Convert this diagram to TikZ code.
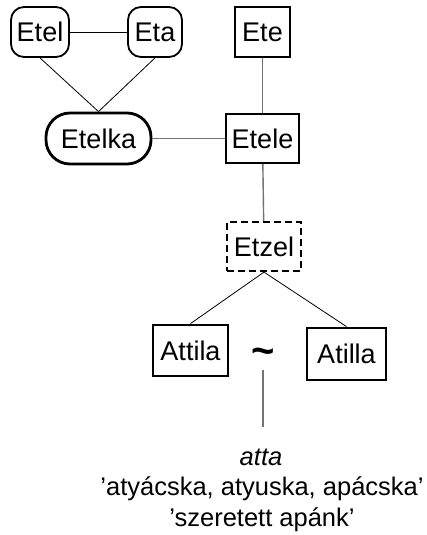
\documentclass[tikz,border=0pt]{standalone}
\usepackage{fontspec}
\setmainfont{Liberation Sans}
\begin{document}
\begin{tikzpicture}[x=1pt,y=-1pt,
  every node/.style={font=\fontsize{27}{30}\selectfont, inner sep=0pt},
  roundbox/.style={draw, line width=1.8pt, rounded corners=13pt},
  ovalbox/.style={draw, line width=2.8pt, rounded corners=24pt},
  sqbox/.style={draw, line width=2pt},
  thickbox/.style={draw, line width=2.8pt},
  dashbox/.style={draw, line width=2.2pt, dash pattern=on 7pt off 4pt},
  thin line/.style={draw, line width=0.8pt, black},
  gray line/.style={draw, line width=1.4pt, black!55},
  txt/.style={anchor=base, font=\fontsize{25.5}{28}\selectfont}
]
\useasboundingbox (0,0) rectangle (426,535);
\node[roundbox, minimum width=58pt, minimum height=50pt] (etel) at (40,32) {Etel};
\node[roundbox, minimum width=54pt, minimum height=50pt] (eta) at (155,32) {Eta};
\node[ovalbox, minimum width=105pt, minimum height=51pt] (etelka) at (98.5,138.5) {Etelka};
\node[sqbox, minimum width=55pt, minimum height=50pt] (ete) at (262.5,32) {Ete};
\node[sqbox, minimum width=73pt, minimum height=49pt] (etele) at (262.5,138.5) {Etele};
\node[dashbox, minimum width=74pt, minimum height=49pt] (etzel) at (264,246.5) {Etzel};
\node[thickbox, minimum width=75pt, minimum height=51pt] (attila) at (190.5,350.5) {Attila};
\node[thickbox, minimum width=79pt, minimum height=52pt] (atilla) at (346.5,354) {Atilla};
\node[font=\fontsize{40}{42}\selectfont\bfseries] (tilde) at (263,356) {\char"007E};
\coordinate (lt) at (263,370);
\coordinate (lb) at (263,427);
\node[txt] (atta) at (261,465) {\itshape atta};
\node[txt] (m1) at (262,495) {’atyácska, atyuska, apácska’};
\node[txt] (m2) at (262,526) {’szeretett apánk’};

\draw[thin line] (etel) -- (eta);
\draw[thin line] (etel.south) -- (etelka.north);
\draw[thin line] (eta.south) -- (etelka.north);
\draw[gray line] (etelka) -- (etele);
\draw[gray line] (ete) -- (etele);
\draw[gray line] (etele) -- (etzel);
\draw[thin line] (etzel.south) -- (attila.north);
\draw[thin line] (etzel.south) -- (atilla.north);
\draw[gray line] (lt) -- (lb);
\end{tikzpicture}
\end{document}
